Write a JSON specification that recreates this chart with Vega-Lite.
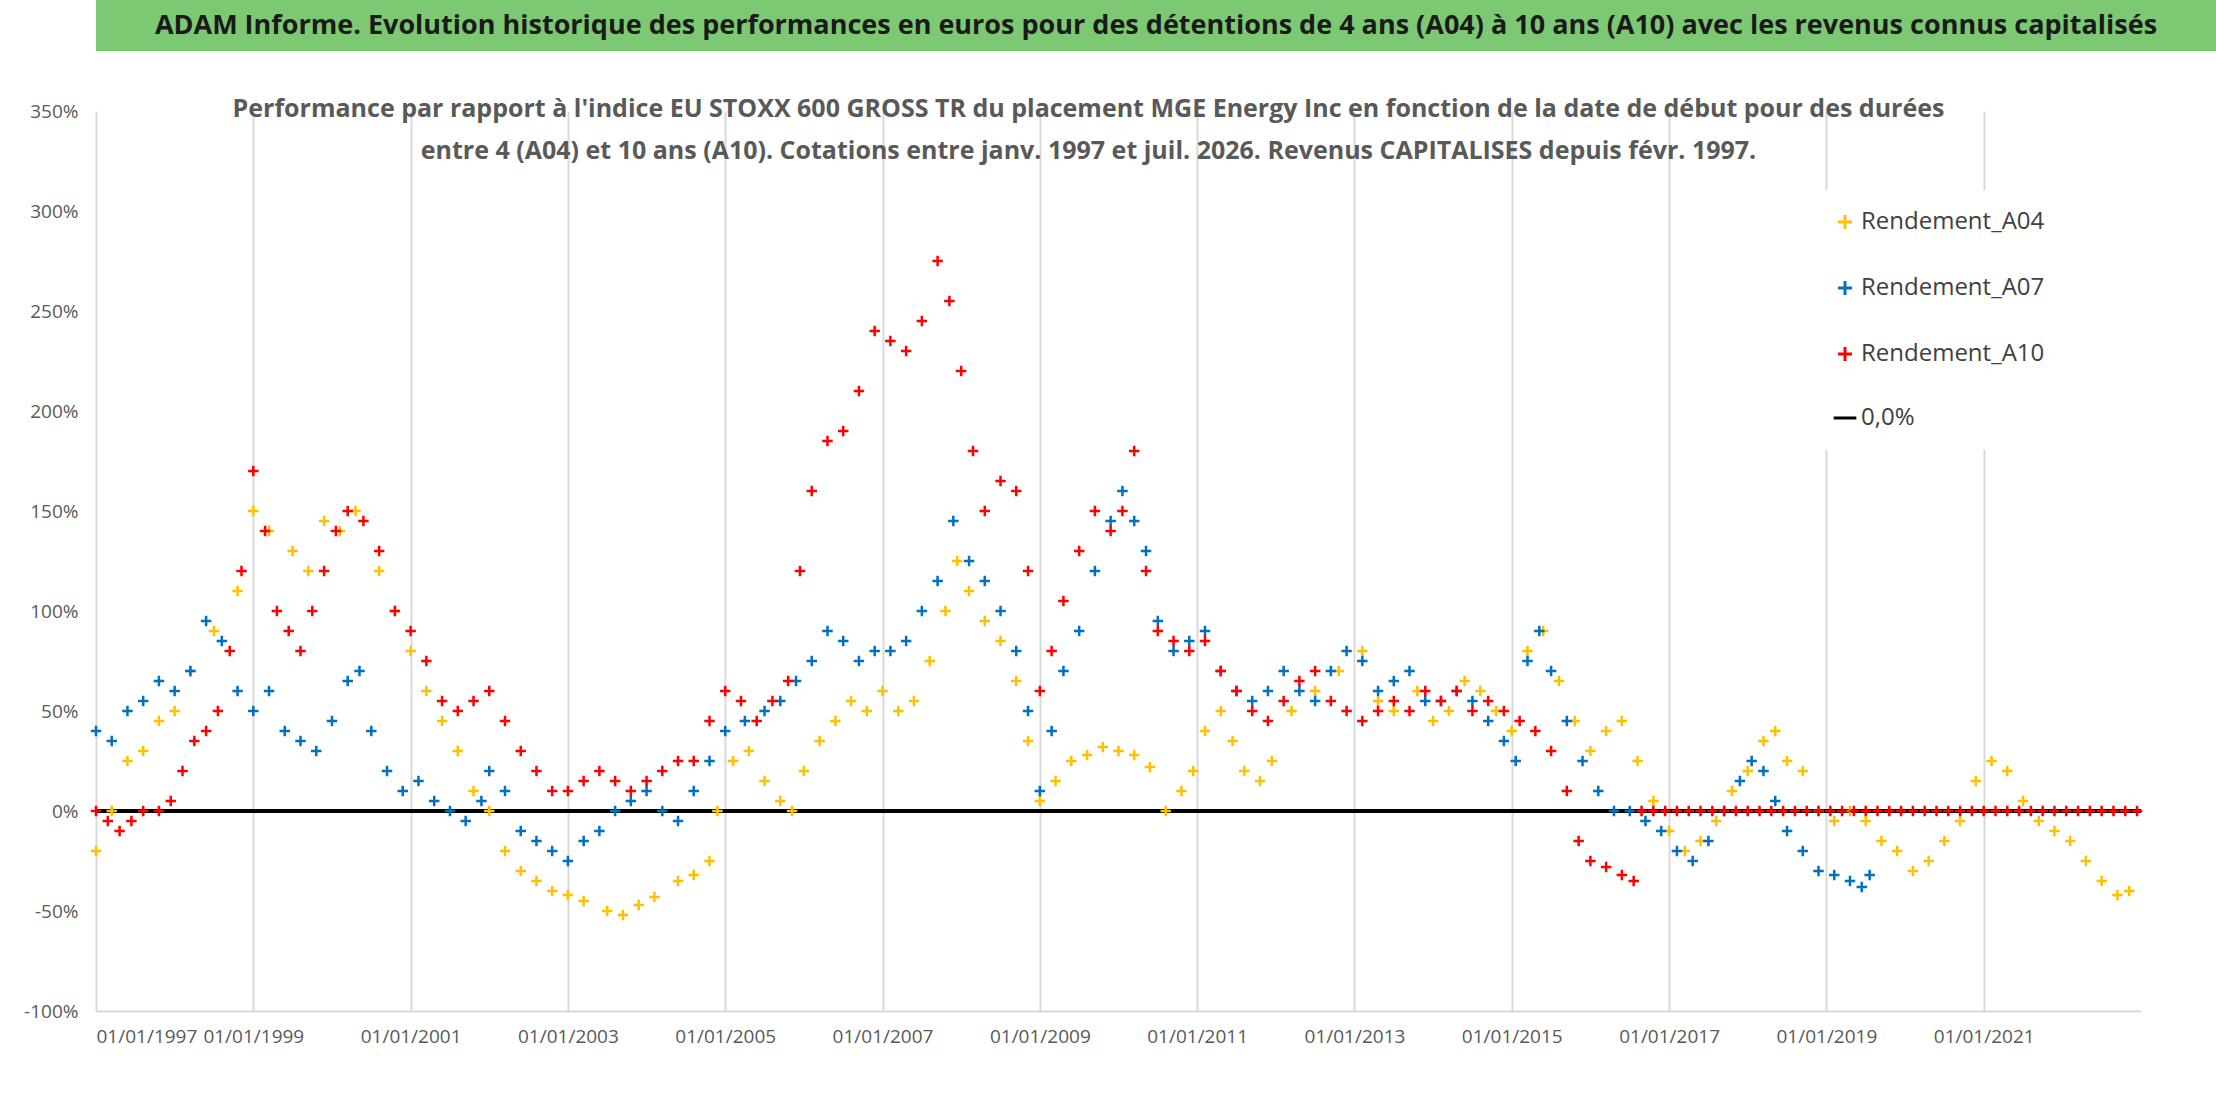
{
  "$schema": "https://vega.github.io/schema/vega-lite/v6.json",
  "background": "white",
  "padding": 0,
  "spacing": 46,
  "config": {"view": {"stroke": null}, "font": "Lato"},
  "datasets": {
    "perf": [
      {"t":1997.0,"A04":-20},{"t":1997.2,"A04":0},{"t":1997.4,"A04":25},{"t":1997.6,"A04":30},{"t":1997.8,"A04":45},{"t":1998.0,"A04":50},{"t":1998.2,"A04":70},{"t":1998.5,"A04":90},{"t":1998.8,"A04":110},{"t":1999.0,"A04":150},{"t":1999.2,"A04":140},{"t":1999.5,"A04":130},{"t":1999.7,"A04":120},{"t":1999.9,"A04":145},{"t":2000.1,"A04":140},{"t":2000.3,"A04":150},{"t":2000.6,"A04":120},{"t":2000.8,"A04":100},{"t":2001.0,"A04":80},{"t":2001.2,"A04":60},{"t":2001.4,"A04":45},{"t":2001.6,"A04":30},{"t":2001.8,"A04":10},{"t":2002.0,"A04":0},{"t":2002.2,"A04":-20},{"t":2002.4,"A04":-30},{"t":2002.6,"A04":-35},{"t":2002.8,"A04":-40},{"t":2003.0,"A04":-42},{"t":2003.2,"A04":-45},{"t":2003.5,"A04":-50},{"t":2003.7,"A04":-52},{"t":2003.9,"A04":-47},{"t":2004.1,"A04":-43},{"t":2004.4,"A04":-35},{"t":2004.6,"A04":-32},{"t":2004.8,"A04":-25},{"t":2004.9,"A04":0},{"t":2005.1,"A04":25},{"t":2005.3,"A04":30},{"t":2005.5,"A04":15},{"t":2005.7,"A04":5},{"t":2005.85,"A04":0},{"t":2006.0,"A04":20},{"t":2006.2,"A04":35},{"t":2006.4,"A04":45},{"t":2006.6,"A04":55},{"t":2006.8,"A04":50},{"t":2007.0,"A04":60},{"t":2007.2,"A04":50},{"t":2007.4,"A04":55},{"t":2007.6,"A04":75},{"t":2007.8,"A04":100},{"t":2007.95,"A04":125},{"t":2008.1,"A04":110},{"t":2008.3,"A04":95},{"t":2008.5,"A04":85},{"t":2008.7,"A04":65},{"t":2008.85,"A04":35},{"t":2009.0,"A04":5},{"t":2009.2,"A04":15},{"t":2009.4,"A04":25},{"t":2009.6,"A04":28},{"t":2009.8,"A04":32},{"t":2010.0,"A04":30},{"t":2010.2,"A04":28},{"t":2010.4,"A04":22},{"t":2010.6,"A04":0},{"t":2010.8,"A04":10},{"t":2010.95,"A04":20},{"t":2011.1,"A04":40},{"t":2011.3,"A04":50},{"t":2011.45,"A04":35},{"t":2011.6,"A04":20},{"t":2011.8,"A04":15},{"t":2011.95,"A04":25},{"t":2012.2,"A04":50},{"t":2012.5,"A04":60},{"t":2012.8,"A04":70},{"t":2013.1,"A04":80},{"t":2013.3,"A04":55},{"t":2013.5,"A04":50},{"t":2013.8,"A04":60},{"t":2014.0,"A04":45},{"t":2014.2,"A04":50},{"t":2014.4,"A04":65},{"t":2014.6,"A04":60},{"t":2014.8,"A04":50},{"t":2015.0,"A04":40},{"t":2015.2,"A04":80},{"t":2015.4,"A04":90},{"t":2015.6,"A04":65},{"t":2015.8,"A04":45},{"t":2016.0,"A04":30},{"t":2016.2,"A04":40},{"t":2016.4,"A04":45},{"t":2016.6,"A04":25},{"t":2016.8,"A04":5},{"t":2017.0,"A04":-10},{"t":2017.2,"A04":-20},{"t":2017.4,"A04":-15},{"t":2017.6,"A04":-5},{"t":2017.8,"A04":10},{"t":2018.0,"A04":20},{"t":2018.2,"A04":35},{"t":2018.35,"A04":40},{"t":2018.5,"A04":25},{"t":2018.7,"A04":20},{"t":2018.9,"A04":0},{"t":2019.1,"A04":-5},{"t":2019.3,"A04":0},{"t":2019.5,"A04":-5},{"t":2019.7,"A04":-15},{"t":2019.9,"A04":-20},{"t":2020.1,"A04":-30},{"t":2020.3,"A04":-25},{"t":2020.5,"A04":-15},{"t":2020.7,"A04":-5},{"t":2020.9,"A04":15},{"t":2021.1,"A04":25},{"t":2021.3,"A04":20},{"t":2021.5,"A04":5},{"t":2021.7,"A04":-5},{"t":2021.9,"A04":-10},{"t":2022.1,"A04":-15},{"t":2022.3,"A04":-25},{"t":2022.5,"A04":-35},{"t":2022.7,"A04":-42},{"t":2022.85,"A04":-40},
      {"t":1997.0,"A07":40},{"t":1997.2,"A07":35},{"t":1997.4,"A07":50},{"t":1997.6,"A07":55},{"t":1997.8,"A07":65},{"t":1998.0,"A07":60},{"t":1998.2,"A07":70},{"t":1998.4,"A07":95},{"t":1998.6,"A07":85},{"t":1998.8,"A07":60},{"t":1999.0,"A07":50},{"t":1999.2,"A07":60},{"t":1999.4,"A07":40},{"t":1999.6,"A07":35},{"t":1999.8,"A07":30},{"t":2000.0,"A07":45},{"t":2000.2,"A07":65},{"t":2000.35,"A07":70},{"t":2000.5,"A07":40},{"t":2000.7,"A07":20},{"t":2000.9,"A07":10},{"t":2001.1,"A07":15},{"t":2001.3,"A07":5},{"t":2001.5,"A07":0},{"t":2001.7,"A07":-5},{"t":2001.9,"A07":5},{"t":2002.0,"A07":20},{"t":2002.2,"A07":10},{"t":2002.4,"A07":-10},{"t":2002.6,"A07":-15},{"t":2002.8,"A07":-20},{"t":2003.0,"A07":-25},{"t":2003.2,"A07":-15},{"t":2003.4,"A07":-10},{"t":2003.6,"A07":0},{"t":2003.8,"A07":5},{"t":2004.0,"A07":10},{"t":2004.2,"A07":0},{"t":2004.4,"A07":-5},{"t":2004.6,"A07":10},{"t":2004.8,"A07":25},{"t":2005.0,"A07":40},{"t":2005.25,"A07":45},{"t":2005.5,"A07":50},{"t":2005.7,"A07":55},{"t":2005.9,"A07":65},{"t":2006.1,"A07":75},{"t":2006.3,"A07":90},{"t":2006.5,"A07":85},{"t":2006.7,"A07":75},{"t":2006.9,"A07":80},{"t":2007.1,"A07":80},{"t":2007.3,"A07":85},{"t":2007.5,"A07":100},{"t":2007.7,"A07":115},{"t":2007.9,"A07":145},{"t":2008.1,"A07":125},{"t":2008.3,"A07":115},{"t":2008.5,"A07":100},{"t":2008.7,"A07":80},{"t":2008.85,"A07":50},{"t":2009.0,"A07":10},{"t":2009.15,"A07":40},{"t":2009.3,"A07":70},{"t":2009.5,"A07":90},{"t":2009.7,"A07":120},{"t":2009.9,"A07":145},{"t":2010.05,"A07":160},{"t":2010.2,"A07":145},{"t":2010.35,"A07":130},{"t":2010.5,"A07":95},{"t":2010.7,"A07":80},{"t":2010.9,"A07":85},{"t":2011.1,"A07":90},{"t":2011.3,"A07":70},{"t":2011.5,"A07":60},{"t":2011.7,"A07":55},{"t":2011.9,"A07":60},{"t":2012.1,"A07":70},{"t":2012.3,"A07":60},{"t":2012.5,"A07":55},{"t":2012.7,"A07":70},{"t":2012.9,"A07":80},{"t":2013.1,"A07":75},{"t":2013.3,"A07":60},{"t":2013.5,"A07":65},{"t":2013.7,"A07":70},{"t":2013.9,"A07":55},{"t":2014.1,"A07":55},{"t":2014.3,"A07":60},{"t":2014.5,"A07":55},{"t":2014.7,"A07":45},{"t":2014.9,"A07":35},{"t":2015.05,"A07":25},{"t":2015.2,"A07":75},{"t":2015.35,"A07":90},{"t":2015.5,"A07":70},{"t":2015.7,"A07":45},{"t":2015.9,"A07":25},{"t":2016.1,"A07":10},{"t":2016.3,"A07":0},{"t":2016.5,"A07":0},{"t":2016.7,"A07":-5},{"t":2016.9,"A07":-10},{"t":2017.1,"A07":-20},{"t":2017.3,"A07":-25},{"t":2017.5,"A07":-15},{"t":2017.7,"A07":0},{"t":2017.9,"A07":15},{"t":2018.05,"A07":25},{"t":2018.2,"A07":20},{"t":2018.35,"A07":5},{"t":2018.5,"A07":-10},{"t":2018.7,"A07":-20},{"t":2018.9,"A07":-30},{"t":2019.1,"A07":-32},{"t":2019.3,"A07":-35},{"t":2019.45,"A07":-38},{"t":2019.55,"A07":-32},
      {"t":1997.0,"A10":0},{"t":1997.15,"A10":-5},{"t":1997.3,"A10":-10},{"t":1997.45,"A10":-5},{"t":1997.6,"A10":0},{"t":1997.8,"A10":0},{"t":1997.95,"A10":5},{"t":1998.1,"A10":20},{"t":1998.25,"A10":35},{"t":1998.4,"A10":40},{"t":1998.55,"A10":50},{"t":1998.7,"A10":80},{"t":1998.85,"A10":120},{"t":1999.0,"A10":170},{"t":1999.15,"A10":140},{"t":1999.3,"A10":100},{"t":1999.45,"A10":90},{"t":1999.6,"A10":80},{"t":1999.75,"A10":100},{"t":1999.9,"A10":120},{"t":2000.05,"A10":140},{"t":2000.2,"A10":150},{"t":2000.4,"A10":145},{"t":2000.6,"A10":130},{"t":2000.8,"A10":100},{"t":2001.0,"A10":90},{"t":2001.2,"A10":75},{"t":2001.4,"A10":55},{"t":2001.6,"A10":50},{"t":2001.8,"A10":55},{"t":2002.0,"A10":60},{"t":2002.2,"A10":45},{"t":2002.4,"A10":30},{"t":2002.6,"A10":20},{"t":2002.8,"A10":10},{"t":2003.0,"A10":10},{"t":2003.2,"A10":15},{"t":2003.4,"A10":20},{"t":2003.6,"A10":15},{"t":2003.8,"A10":10},{"t":2004.0,"A10":15},{"t":2004.2,"A10":20},{"t":2004.4,"A10":25},{"t":2004.6,"A10":25},{"t":2004.8,"A10":45},{"t":2005.0,"A10":60},{"t":2005.2,"A10":55},{"t":2005.4,"A10":45},{"t":2005.6,"A10":55},{"t":2005.8,"A10":65},{"t":2005.95,"A10":120},{"t":2006.1,"A10":160},{"t":2006.3,"A10":185},{"t":2006.5,"A10":190},{"t":2006.7,"A10":210},{"t":2006.9,"A10":240},{"t":2007.1,"A10":235},{"t":2007.3,"A10":230},{"t":2007.5,"A10":245},{"t":2007.7,"A10":275},{"t":2007.85,"A10":255},{"t":2008.0,"A10":220},{"t":2008.15,"A10":180},{"t":2008.3,"A10":150},{"t":2008.5,"A10":165},{"t":2008.7,"A10":160},{"t":2008.85,"A10":120},{"t":2009.0,"A10":60},{"t":2009.15,"A10":80},{"t":2009.3,"A10":105},{"t":2009.5,"A10":130},{"t":2009.7,"A10":150},{"t":2009.9,"A10":140},{"t":2010.05,"A10":150},{"t":2010.2,"A10":180},{"t":2010.35,"A10":120},{"t":2010.5,"A10":90},{"t":2010.7,"A10":85},{"t":2010.9,"A10":80},{"t":2011.1,"A10":85},{"t":2011.3,"A10":70},{"t":2011.5,"A10":60},{"t":2011.7,"A10":50},{"t":2011.9,"A10":45},{"t":2012.1,"A10":55},{"t":2012.3,"A10":65},{"t":2012.5,"A10":70},{"t":2012.7,"A10":55},{"t":2012.9,"A10":50},{"t":2013.1,"A10":45},{"t":2013.3,"A10":50},{"t":2013.5,"A10":55},{"t":2013.7,"A10":50},{"t":2013.9,"A10":60},{"t":2014.1,"A10":55},{"t":2014.3,"A10":60},{"t":2014.5,"A10":50},{"t":2014.7,"A10":55},{"t":2014.9,"A10":50},{"t":2015.1,"A10":45},{"t":2015.3,"A10":40},{"t":2015.5,"A10":30},{"t":2015.7,"A10":10},{"t":2015.85,"A10":-15},{"t":2016.0,"A10":-25},{"t":2016.2,"A10":-28},{"t":2016.4,"A10":-32},{"t":2016.55,"A10":-35},
      {"t":2016.65,"A10":0},{"t":2016.8,"A10":0},{"t":2016.95,"A10":0},{"t":2017.1,"A10":0},{"t":2017.25,"A10":0},{"t":2017.4,"A10":0},{"t":2017.55,"A10":0},{"t":2017.7,"A10":0},{"t":2017.85,"A10":0},{"t":2018.0,"A10":0},{"t":2018.15,"A10":0},{"t":2018.3,"A10":0},{"t":2018.45,"A10":0},{"t":2018.6,"A10":0},{"t":2018.75,"A10":0},{"t":2018.9,"A10":0},{"t":2019.05,"A10":0},{"t":2019.2,"A10":0},{"t":2019.35,"A10":0},{"t":2019.5,"A10":0},{"t":2019.65,"A10":0},{"t":2019.8,"A10":0},{"t":2019.95,"A10":0},{"t":2020.1,"A10":0},{"t":2020.25,"A10":0},{"t":2020.4,"A10":0},{"t":2020.55,"A10":0},{"t":2020.7,"A10":0},{"t":2020.85,"A10":0},{"t":2021.0,"A10":0},{"t":2021.15,"A10":0},{"t":2021.3,"A10":0},{"t":2021.45,"A10":0},{"t":2021.6,"A10":0},{"t":2021.75,"A10":0},{"t":2021.9,"A10":0},{"t":2022.05,"A10":0},{"t":2022.2,"A10":0},{"t":2022.35,"A10":0},{"t":2022.5,"A10":0},{"t":2022.65,"A10":0},{"t":2022.8,"A10":0},{"t":2022.95,"A10":0}
    ]
  },
  "vconcat": [
    {
      "width": 2120,
      "height": 51,
      "view": {"fill": "#7dc873", "stroke": null},
      "data": {"values": [{"label": "ADAM Informe. Evolution historique des performances en euros pour des détentions de 4 ans (A04) à 10 ans (A10) avec les revenus connus capitalisés"}]},
      "mark": {"type": "text", "font": "Open Sans", "fontWeight": "bold", "fontSize": 27, "color": "#1a1a1a"},
      "encoding": {
        "text": {"field": "label"},
        "y": {"datum": 0, "type": "quantitative", "scale": {"domain": [-1, 1]},
          "axis": {"labels": false, "ticks": false, "domain": false, "grid": false, "title": null, "minExtent": 96, "maxExtent": 96}}
      }
    },
    {
      "width": 2045,
      "height": 900,
      "title": {
        "text": ["Performance par rapport à l'indice EU STOXX 600 GROSS TR  du placement MGE Energy Inc en fonction de la date de début pour des durées", "entre 4 (A04) et 10 ans (A10). Cotations entre janv. 1997 et juil. 2026. Revenus CAPITALISES depuis févr. 1997."],
        "font": "Open Sans", "fontSize": 25, "fontWeight": "bold", "color": "#595959",
        "anchor": "middle", "offset": -62, "lineHeight": 42, "dx": -30
      },
      "data": {"name": "perf"},
      "transform": [
        {"fold": ["A04", "A07", "A10"], "as": ["s", "v"]},
        {"filter": "isValid(datum.v)"}
      ],
      "layer": [
        {
          "mark": {"type": "rule", "color": "black", "strokeWidth": 4},
          "encoding": {"y": {"datum": 0, "type": "quantitative"}}
        },
        {
          "mark": {"type": "point", "filled": false, "size": 110, "strokeWidth": 2.5, "opacity": 1},
          "encoding": {
            "x": {"field": "t", "type": "quantitative", "scale": {"domain": [1997, 2023], "nice": false},
              "axis": {"title": null, "values": [1997, 1999, 2001, 2003, 2005, 2007, 2009, 2011, 2013, 2015, 2017, 2019, 2021],
                "labelExpr": "'01/01/' + datum.value", "labelFontSize": 19, "labelColor": "#595959", "labelPadding": 16, "labelLimit": 0,
                "ticks": false, "domainColor": "#d9d9d9", "domainWidth": 2, "gridColor": "#d9d9d9", "gridWidth": 2, "labelFont": "Open Sans"}},
            "y": {"field": "v", "type": "quantitative", "scale": {"domain": [-100, 350], "nice": false},
              "axis": {"title": null, "values": [-100, -50, 0, 50, 100, 150, 200, 250, 300, 350],
                "labelExpr": "datum.value + '%'", "labelFontSize": 19, "labelColor": "#595959", "labelPadding": 18,
                "ticks": false, "domain": false, "gridColor": "#e0e0e0", "gridWidth": 1.5, "minExtent": 96, "maxExtent": 96, "labelFont": "Open Sans"}},
            "color": {"field": "s", "type": "nominal",
              "scale": {"domain": ["A04", "A07", "A10", "0,0%"], "range": ["#ffc000", "#0070c0", "#ff0000", "#000000"]},
              "legend": {"title": null, "orient": "none", "legendX": 1717, "legendY": 190, "fillColor": "white",
                "padding": 20, "rowPadding": 38, "labelFontSize": 24, "labelColor": "#404040", "labelFont": "Open Sans", "labelLimit": 0,
                "symbolSize": 200, "symbolStrokeWidth": 3,
                "labelExpr": "datum.label == '0,0%' ? datum.label : 'Rendement_' + datum.label"}},
            "shape": {"field": "s", "type": "nominal",
              "scale": {"domain": ["A04", "A07", "A10", "0,0%"], "range": ["M-1,0L1,0M0,-1L0,1", "M-1,0L1,0M0,-1L0,1", "M-1,0L1,0M0,-1L0,1", "M-1.6,0L1.6,0"]}}
          }
        }
      ]
    }
  ]
}
